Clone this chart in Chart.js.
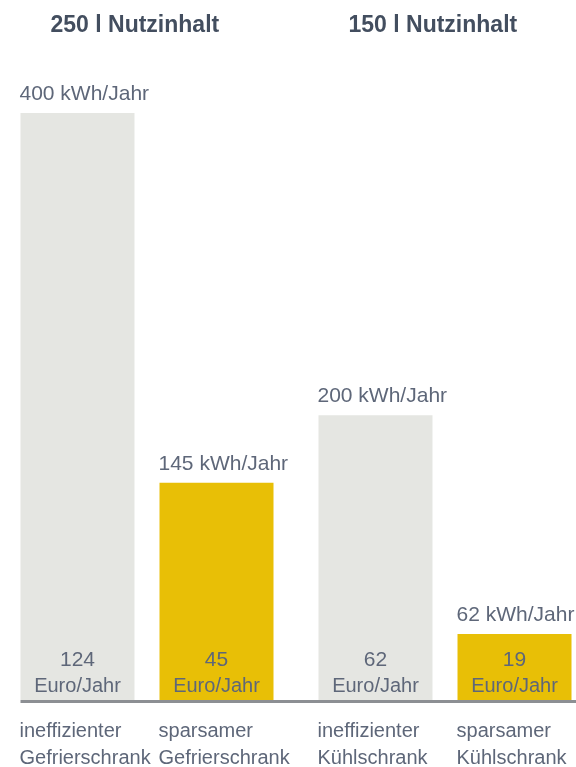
<!DOCTYPE html>
<html lang="de">
<head>
<meta charset="utf-8">
<title>Stromverbrauch Kühl- und Gefriergeräte</title>
<script src="https://cdn.jsdelivr.net/npm/chart.js@4/dist/chart.umd.min.js"></script>
<style>
  html, body {
    margin: 0;
    padding: 0;
    background: #ffffff;
    overflow: hidden;
  }
  #wrap {
    position: relative;
    width: 576px;
    height: 767px;
    overflow: hidden;
  }
  #energyChart {
    position: absolute;
    left: -2px;
    top: 0;
  }
</style>
</head>
<body>
<div id="wrap">
  <canvas id="energyChart" width="600" height="767"></canvas>
</div>
<script>
// groups (one per fridge size)
const groups = ["250 l Nutzinhalt", "150 l Nutzinhalt"];
const applianceNames = ["Gefrierschrank", "Kühlschrank"];

// bar heights as drawn in the picture
const ineffizientBars = [400, 194];
const sparsamBars = [148, 45];

// labels printed on the bars
const ineffizientKwh = [400, 200];
const sparsamKwh = [145, 62];
const ineffizientEuro = [124, 62];
const sparsamEuro = [45, 19];

const seriesPrefix = ["ineffizienter", "sparsamer"];

const GRAY = "#e5e6e2";
const YELLOW = "#e8bf06";
const TEXT = "#5e6779";
const TITLE = "#434e5f";
const FONT = "'Liberation Sans', Arial, Helvetica, sans-serif";

const kwhTexts = [ineffizientKwh, sparsamKwh];
const euroTexts = [ineffizientEuro, sparsamEuro];

// draws titles, value labels, baseline and category names
const labelPlugin = {
  id: "labelPlugin",
  afterDatasetsDraw(chart) {
    const ctx = chart.ctx;
    const area = chart.chartArea;
    const first = chart.getDatasetMeta(0).data[0];
    const firstLeft = first.x - first.width / 2;

    ctx.save();

    // baseline
    ctx.fillStyle = "#8c8f93";
    ctx.fillRect(firstLeft, area.bottom, chart.width - firstLeft, 3);

    // group titles
    ctx.fillStyle = TITLE;
    ctx.font = "bold 23px " + FONT;
    ctx.textAlign = "left";
    ctx.textBaseline = "alphabetic";
    groups.forEach((g, i) => {
      const bar = chart.getDatasetMeta(0).data[i];
      ctx.fillText(g, bar.x - bar.width / 2 + 30, 32);
    });

    chart.data.datasets.forEach((ds, d) => {
      const meta = chart.getDatasetMeta(d);
      meta.data.forEach((bar, i) => {
        const left = bar.x - bar.width / 2;
        ctx.fillStyle = TEXT;

        // kWh above the bar
        ctx.font = "21px " + FONT;
        ctx.textAlign = "left";
        ctx.fillText(kwhTexts[d][i] + " kWh/Jahr", left - 1, bar.y - 13);

        // Euro inside the bar
        ctx.textAlign = "center";
        ctx.fillText(String(euroTexts[d][i]), bar.x, area.bottom - 34);
        ctx.font = "20px " + FONT;
        ctx.fillText("Euro/Jahr", bar.x, area.bottom - 8);

        // category name below
        ctx.textAlign = "left";
        ctx.fillText(seriesPrefix[d], left - 1, area.bottom + 37);
        ctx.fillText(applianceNames[i], left - 1, area.bottom + 64);
      });
    });

    ctx.restore();
  }
};

new Chart(document.getElementById("energyChart"), {
  type: "bar",
  data: {
    labels: groups,
    datasets: [
      {
        label: "ineffizient",
        data: ineffizientBars,
        backgroundColor: GRAY
      },
      {
        label: "sparsam",
        data: sparsamBars,
        backgroundColor: YELLOW
      }
    ]
  },
  options: {
    responsive: false,
    animation: false,
    devicePixelRatio: 1,
    categoryPercentage: 0.933,
    barPercentage: 0.82,
    layout: {
      padding: { left: 0, right: 4, top: 113, bottom: 67 }
    },
    plugins: {
      legend: { display: false },
      tooltip: { enabled: false }
    },
    scales: {
      x: { display: false },
      y: { display: false, min: 0, max: 400 }
    }
  },
  plugins: [labelPlugin]
});
</script>
</body>
</html>
